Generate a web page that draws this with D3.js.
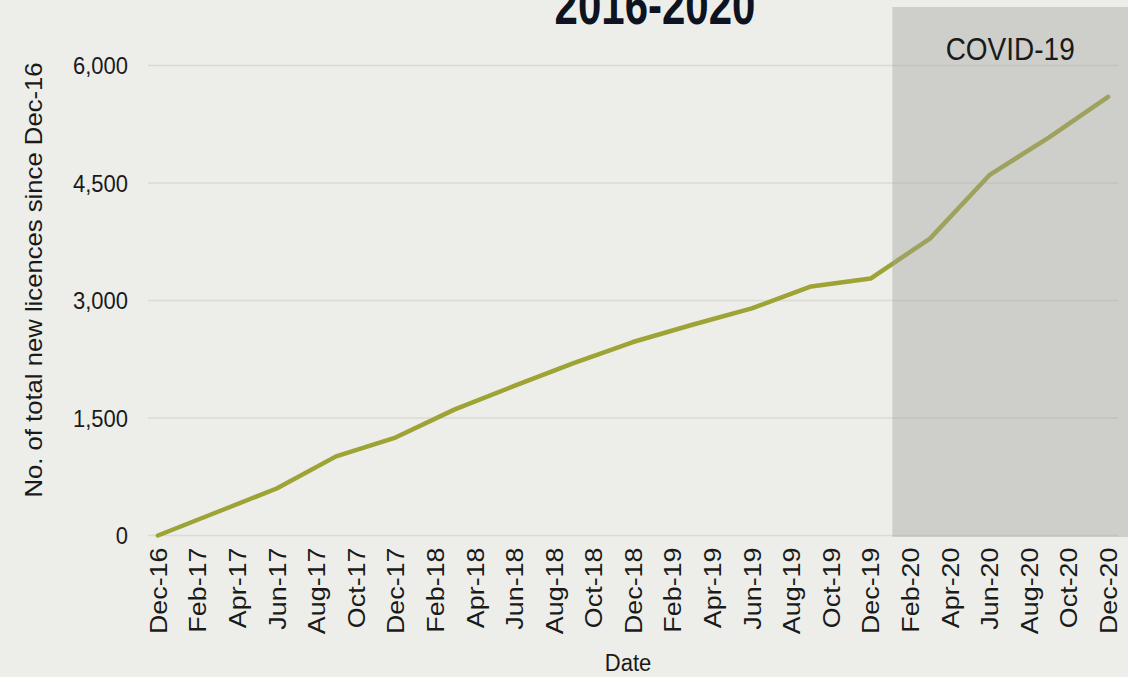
<!DOCTYPE html>
<html><head><meta charset="utf-8">
<script src="https://cdn.jsdelivr.net/npm/d3@7"></script>
<style>
html,body{margin:0;padding:0;background:#edeee9;}
svg{display:block;font-family:"Liberation Sans",Arial,sans-serif;}
</style></head>
<body>
<svg id="c" width="1128" height="677"></svg>
<script>
// Data (quarterly cumulative new licences since Dec-16)
const months = ["Dec-16","Jan-17","Feb-17","Mar-17","Apr-17","May-17","Jun-17","Jul-17","Aug-17","Sep-17","Oct-17","Nov-17",
"Dec-17","Jan-18","Feb-18","Mar-18","Apr-18","May-18","Jun-18","Jul-18","Aug-18","Sep-18","Oct-18","Nov-18",
"Dec-18","Jan-19","Feb-19","Mar-19","Apr-19","May-19","Jun-19","Jul-19","Aug-19","Sep-19","Oct-19","Nov-19",
"Dec-19","Jan-20","Feb-20","Mar-20","Apr-20","May-20","Jun-20","Jul-20","Aug-20","Sep-20","Oct-20","Nov-20","Dec-20"];
const pointDates = ["Dec-16","Mar-17","Jun-17","Sep-17","Dec-17","Mar-18","Jun-18","Sep-18","Dec-18","Mar-19","Jun-19","Sep-19","Dec-19","Mar-20","Jun-20","Sep-20","Dec-20"];
const licences = [0,300,600,1010,1250,1610,1910,2200,2470,2690,2900,3180,3280,3790,4600,5080,5600];
const yTicks = [0,1500,3000,4500,6000];
const covidStart = "Jan-20";
const title = "2016-2020";
const yTitle = "No. of total new licences since Dec-16";
const xTitle = "Date";

(function(){
const svg = d3.select("#c");
const pLeft = 148, pRight = 1118, pTop = 65.5, pBottom = 535.5;
const SY = 1.1; // slight vertical stretch of text seen in the reference

const x = d3.scaleLinear().domain([-0.5, months.length - 0.5]).range([pLeft, pRight]);
const xi = m => x(months.indexOf(m));
const y = d3.scaleLinear().domain([0, 6000]).range([pBottom, pTop]);

// gridlines
svg.append("g").selectAll("line").data(yTicks).join("line")
  .attr("x1", pLeft).attr("x2", pRight)
  .attr("y1", d => y(d)).attr("y2", d => y(d))
  .attr("stroke", "#dadad6").attr("stroke-width", 1.5);

// y tick labels
const yAxis = d3.axisLeft(y).tickValues(yTicks).tickSize(0).tickPadding(0).tickFormat(d3.format(","));
const ga = svg.append("g").attr("transform", `translate(128,0)`).call(yAxis);
ga.select(".domain").remove();
ga.selectAll(".tick text").attr("font-size", 22).attr("fill", "#1a1a1a")
  .attr("font-family", "Liberation Sans, Arial, sans-serif")
  .attr("x", null).attr("dy", null)
  .attr("dominant-baseline", "central")
  .attr("transform", `scale(1,${SY})`);

// x tick labels (every 2 months)
const xLabels = months.filter((m, i) => i % 2 === 0);
const xAxis = d3.axisBottom(x).tickValues(xLabels.map(m => months.indexOf(m))).tickSize(0)
  .tickFormat(i => months[i]);
const gx = svg.append("g").attr("transform", `translate(0,${pBottom})`).call(xAxis);
gx.select(".domain").remove();
gx.selectAll(".tick text")
  .attr("font-size", 24).attr("fill", "#1a1a1a").attr("font-family", "Liberation Sans, Arial, sans-serif")
  .attr("transform", `translate(0,12) scale(1,1.12) rotate(-90)`)
  .attr("text-anchor", "end")
  .attr("x", 0).attr("y", 0).attr("dy", "0.35em");

// line
const line = d3.line().x((d, i) => xi(pointDates[i])).y(d => y(d));
svg.append("path").datum(licences).attr("d", line)
  .attr("fill", "none").attr("stroke", "#9ea336").attr("stroke-width", 4.5)
  .attr("stroke-linejoin", "round").attr("stroke-linecap", "round");

// COVID shading
const cx0 = xi(covidStart) + 2;
svg.append("rect").attr("x", cx0).attr("y", 7).attr("width", 1128 - cx0).attr("height", pBottom + 1.5 - 7)
  .attr("fill", "#a0a09c").attr("fill-opacity", 0.4);
svg.append("text").attr("transform", `translate(${(cx0 + 1128) / 2},60) scale(1,1.1)`).attr("text-anchor", "middle")
  .attr("font-size", 28).attr("fill", "#1a1a1a").text("COVID-19");

// titles
svg.append("text").attr("transform", `translate(655,24) scale(1,1.3)`).attr("text-anchor", "middle")
  .attr("font-size", 42).attr("font-weight", "bold").attr("fill", "#0d1320").text(title);
svg.append("text").attr("transform", `translate(42,280) scale(1,1.07) rotate(-90)`).attr("text-anchor", "middle")
  .attr("font-size", 24).attr("fill", "#1a1a1a").text(yTitle);
svg.append("text").attr("transform", `translate(628,671) scale(1,${SY})`).attr("text-anchor", "middle")
  .attr("font-size", 22).attr("fill", "#1a1a1a").text(xTitle);
})();
</script>
</body></html>
